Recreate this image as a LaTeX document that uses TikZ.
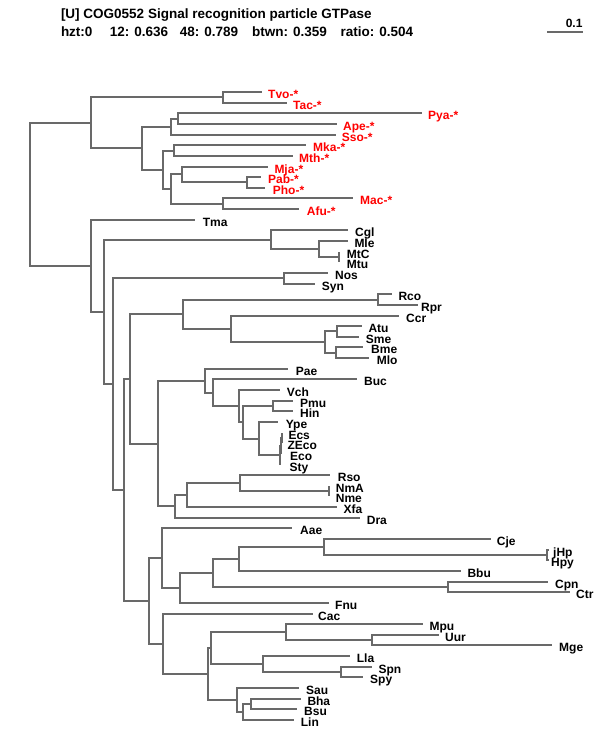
\documentclass[tikz,border=0pt]{standalone}
\usepackage{fontspec}
\setmainfont{Liberation Sans}
\definecolor{edgegray}{RGB}{105,105,105}
\definecolor{archred}{RGB}{255,0,0}
\tikzset{
  edge/.style={draw=edgegray, line width=2pt},
  labfont/.style={inner sep=0pt, font=\fontsize{12}{14}\selectfont\bfseries},
  lab/.style={labfont, anchor=base west, yshift=-6pt},
  arlab/.style={lab, text=archred},
  hdr/.style={anchor=base west, inner sep=0pt, font=\fontsize{13.5}{16}\selectfont\bfseries},
}
% leaf: name, index, end x, label x, style, text, parent
\newcommand\tleaf[7]{%
  \pgfmathsetmacro\yy{round(92+10.644*#2)}%
  \pgfmathsetmacro\xx{round(#3)}%
  \coordinate (l#1) at (\xx,\yy);
  \node[#5] (t#1) at (#4,\yy) {#6};
  \draw[edge] (#7) |- (l#1);}
% internal node: name, x, index
\newcommand\inode[3]{%
  \pgfmathsetmacro\yy{round(92+10.644*#3)}%
  \pgfmathsetmacro\xx{round(#2)}%
  \coordinate (#1) at (\xx,\yy);}
\begin{document}
\begin{tikzpicture}[x=1pt,y=-1pt]
\useasboundingbox (0,0) rectangle (600,750);
% header
\node[hdr] (title) at (60.8,18.8) {[U] COG0552 Signal recognition particle GTPase};
\node[hdr] (s1) at (60.8,36) {hzt:0};
\node[hdr] (s2) at (109.6,36) {12: 0.636};
\node[hdr] (s3) at (179.6,36) {48: 0.789};
\node[hdr] (s4) at (252,36) {btwn: 0.359};
\node[hdr] (s5) at (340.4,36) {ratio: 0.504};
\node[labfont, anchor=base east] (sclab) at (582.7,27.3) {0.1};
\coordinate (sbL) at (547,32);
\coordinate (sbR) at (583,32);
\draw[draw=edgegray, line width=1.5pt] (sbL) -- (sbR);
% internal nodes
\inode{root}{30}{9.6101}
\inode{a11}{91}{2.890625}
\inode{a1}{222.7}{0.5}
\inode{a10}{141.7}{5.28125}
\inode{a3}{170.7}{3.25}
\inode{a2}{178.3}{2.5}
\inode{a9}{162.7}{7.3125}
\inode{a4}{174}{5.5}
\inode{a8}{170.7}{9.125}
\inode{a6}{181.7}{7.75}
\inode{a5}{246.7}{8.5}
\inode{a7}{222.7}{10.5}
\inode{b47}{91}{16.3296}
\inode{b46}{104.3}{20.6593}
\inode{b3}{270.7}{13.875}
\inode{b2}{319}{14.75}
\inode{b1}{339.3}{15.5}
\inode{b45}{112.7}{27.4436}
\inode{b4}{284}{17.5}
\inode{b44}{123.7}{37.3872}
\inode{b25}{129.7}{26.9541}
\inode{b10}{182.7}{20.875}
\inode{b5}{378.3}{19.5}
\inode{b9}{230.7}{22.25}
\inode{b8}{325}{23.5}
\inode{b6}{337.3}{22.5}
\inode{b7}{336}{24.5}
\inode{b24}{157.7}{33.0332}
\inode{b19}{205}{27.1289}
\inode{b18}{212.7}{28.2578}
\inode{b17}{239.3}{29.5156}
\inode{b16}{243.3}{31.0313}
\inode{b11}{273.3}{29.5}
\inode{b15}{258.7}{32.5625}
\inode{b14}{279.5}{34.125}
\inode{b13}{280.7}{33.25}
\inode{b12}{281.7}{32.5}
\inode{b23}{174.7}{38.9375}
\inode{b22}{186.7}{37.875}
\inode{b21}{240}{36.75}
\inode{b20}{329.3}{37.5}
\inode{b43}{149}{47.8203}
\inode{b32}{161.7}{43.7969}
\inode{b31}{179.7}{46.5938}
\inode{b30}{213.3}{45.1875}
\inode{b28}{239.3}{43.875}
\inode{b27}{324}{42.75}
\inode{b26}{546.7}{43.5}
\inode{b29}{448.3}{46.5}
\inode{b42}{162.7}{51.8438}
\inode{b41}{207.7}{54.6875}
\inode{b37}{210.7}{52.25}
\inode{b34}{285.7}{50.75}
\inode{b33}{372.3}{51.5}
\inode{b36}{262.7}{53.75}
\inode{b35}{340.7}{54.5}
\inode{b40}{236.7}{57.125}
\inode{b39}{243.3}{58.25}
\inode{b38}{251}{57.5}
% internal edges
\foreach \p/\c in {root/a11, a11/a1, a11/a10, a10/a3, a3/a2, a10/a9, a9/a4, a9/a8, a8/a6, a6/a5, a8/a7,
  root/b47, b47/b46, b46/b3, b3/b2, b2/b1, b46/b45, b45/b4, b45/b44, b44/b25, b25/b10, b10/b5, b10/b9,
  b9/b8, b8/b6, b8/b7, b25/b24, b24/b19, b19/b18, b18/b17, b17/b16, b16/b11, b16/b15, b15/b14, b14/b13,
  b13/b12, b24/b23, b23/b22, b22/b21, b21/b20, b44/b43, b43/b32, b32/b31, b31/b30, b30/b28, b28/b27,
  b27/b26, b30/b29, b43/b42, b42/b41, b41/b37, b37/b34, b34/b33, b37/b36, b36/b35, b41/b40, b40/b39, b39/b38}
  {\draw[edge] (\p) |- (\c);}
% leaves
\tleaf{Tvo}{0}{261.7}{268}{arlab}{Tvo-*}{a1}
\tleaf{Tac}{1}{287}{293}{arlab}{Tac-*}{a1}
\tleaf{Pya}{2}{421.7}{428}{arlab}{Pya-*}{a2}
\tleaf{Ape}{3}{337.3}{343}{arlab}{Ape-*}{a2}
\tleaf{Sso}{4}{336}{341.7}{arlab}{Sso-*}{a3}
\tleaf{Mka}{5}{306}{313}{arlab}{Mka-*}{a4}
\tleaf{Mth}{6}{292.7}{299}{arlab}{Mth-*}{a4}
\tleaf{Mja}{7}{267.7}{274.3}{arlab}{Mja-*}{a6}
\tleaf{Pab}{8}{261}{268}{arlab}{Pab-*}{a5}
\tleaf{Pho}{9}{265}{272.7}{arlab}{Pho-*}{a5}
\tleaf{Mac}{10}{352.7}{360}{arlab}{Mac-*}{a7}
\tleaf{Afu}{11}{299.3}{306.7}{arlab}{Afu-*}{a7}
\tleaf{Tma}{12}{195}{202.7}{lab}{Tma}{b47}
\tleaf{Cgl}{13}{347.7}{355}{lab}{Cgl}{b3}
\tleaf{Mle}{14}{347.7}{354.3}{lab}{Mle}{b2}
\tleaf{MtC}{15}{339.3}{346.7}{lab}{MtC}{b1}
\tleaf{Mtu}{16}{339.3}{346.7}{lab}{Mtu}{b1}
\tleaf{Nos}{17}{328.3}{335}{lab}{Nos}{b4}
\tleaf{Syn}{18}{315}{321.7}{lab}{Syn}{b4}
\tleaf{Rco}{19}{391.7}{398.3}{lab}{Rco}{b5}
\tleaf{Rpr}{20}{418.3}{421}{lab}{Rpr}{b5}
\tleaf{Ccr}{21}{399.3}{406}{lab}{Ccr}{b9}
\tleaf{Atu}{22}{361.7}{368.3}{lab}{Atu}{b6}
\tleaf{Sme}{23}{359}{365.7}{lab}{Sme}{b6}
\tleaf{Bme}{24}{363.3}{371}{lab}{Bme}{b7}
\tleaf{Mlo}{25}{369.3}{376.7}{lab}{Mlo}{b7}
\tleaf{Pae}{26}{288.3}{295.7}{lab}{Pae}{b19}
\tleaf{Buc}{27}{356.7}{364}{lab}{Buc}{b18}
\tleaf{Vch}{28}{280}{286.7}{lab}{Vch}{b17}
\tleaf{Pmu}{29}{292.7}{300}{lab}{Pmu}{b11}
\tleaf{Hin}{30}{292.7}{300}{lab}{Hin}{b11}
\tleaf{Ype}{31}{278.3}{285.7}{lab}{Ype}{b15}
\tleaf{Ecs}{32}{281.7}{288.3}{lab}{Ecs}{b12}
\tleaf{ZEco}{33}{281.7}{287.3}{lab}{ZEco}{b12}
\tleaf{Eco}{34}{280.7}{290}{lab}{Eco}{b13}
\tleaf{Sty}{35}{279.5}{289.3}{lab}{Sty}{b14}
\tleaf{Rso}{36}{330}{337.7}{lab}{Rso}{b21}
\tleaf{NmA}{37}{329.3}{335.7}{lab}{NmA}{b20}
\tleaf{Nme}{38}{329.3}{335.7}{lab}{Nme}{b20}
\tleaf{Xfa}{39}{336.7}{343.3}{lab}{Xfa}{b22}
\tleaf{Dra}{40}{360}{366.7}{lab}{Dra}{b23}
\tleaf{Aae}{41}{292.3}{300}{lab}{Aae}{b32}
\tleaf{Cje}{42}{490.7}{496.7}{lab}{Cje}{b27}
\tleaf{jHp}{43}{549.3}{553}{lab}{jHp}{b26}
\tleaf{Hpy}{44}{549.3}{551}{lab}{Hpy}{b26}
\tleaf{Bbu}{45}{460.7}{467.3}{lab}{Bbu}{b28}
\tleaf{Cpn}{46}{548.3}{555}{lab}{Cpn}{b29}
\tleaf{Ctr}{47}{570}{576}{lab}{Ctr}{b29}
\tleaf{Fnu}{48}{329}{335}{lab}{Fnu}{b31}
\tleaf{Cac}{49}{313}{318}{lab}{Cac}{b42}
\tleaf{Mpu}{50}{422.7}{429.3}{lab}{Mpu}{b34}
\tleaf{Uur}{51}{439.3}{445}{lab}{Uur}{b33}
\tleaf{Mge}{52}{551.7}{559}{lab}{Mge}{b33}
\tleaf{Lla}{53}{350}{356.7}{lab}{Lla}{b36}
\tleaf{Spn}{54}{371.7}{378.3}{lab}{Spn}{b35}
\tleaf{Spy}{55}{363.3}{370}{lab}{Spy}{b35}
\tleaf{Sau}{56}{299.3}{306}{lab}{Sau}{b40}
\tleaf{Bha}{57}{301}{307.3}{lab}{Bha}{b38}
\tleaf{Bsu}{58}{296.7}{304}{lab}{Bsu}{b38}
\tleaf{Lin}{59}{294}{300.7}{lab}{Lin}{b39}
\end{tikzpicture}
\end{document}
